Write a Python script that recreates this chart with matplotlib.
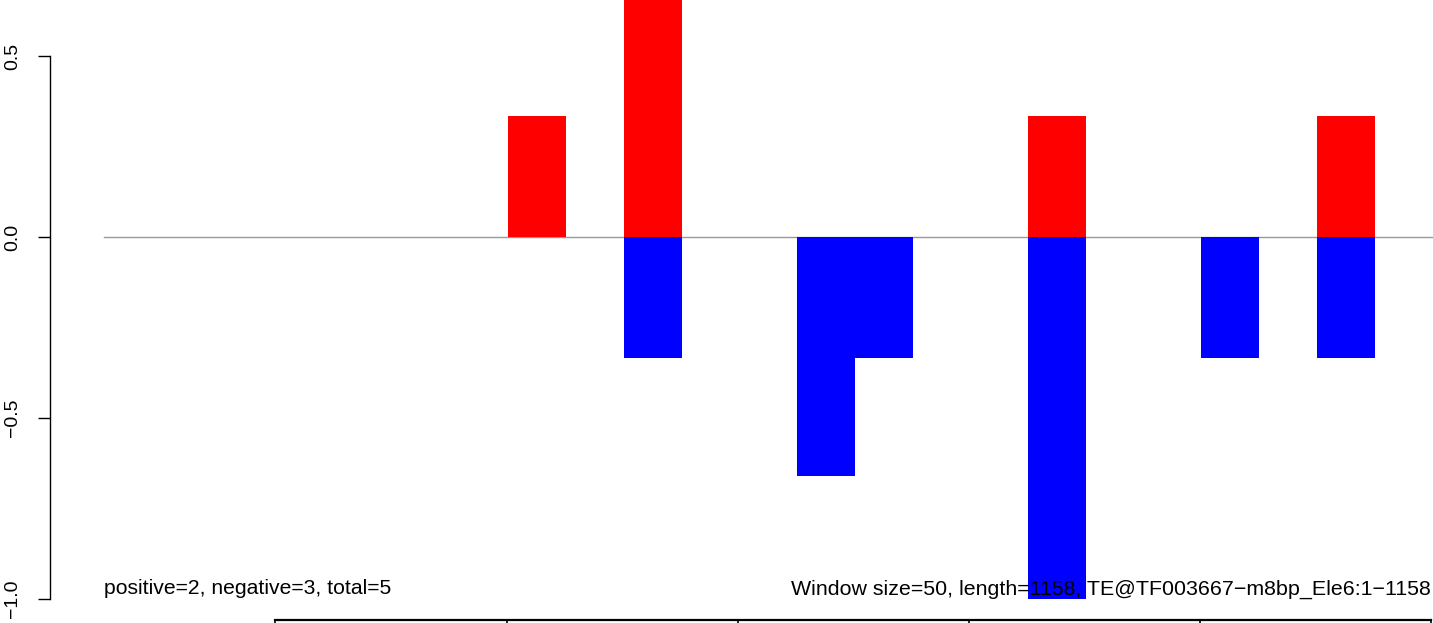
import numpy as np
import matplotlib.pyplot as plt

plt.rcParams['font.family'] = ['Liberation Sans', 'DejaVu Sans']

# window starts (bp), window size 50
window_size = 50
seq_length = 1158
window_starts = [350, 450, 600, 650, 800, 950, 1050]
pos_vals = [0.333, 0.667, 0.0, 0.0, 0.333, 0.0, 0.333]
neg_vals = [0.0, -0.333, -0.66, -0.333, -1.0, -0.333, -0.333]

y_ticks = [-1.0, -0.5, 0.0, 0.5]
y_tick_labels = ['\u22121.0', '\u22120.5', '0.0', '0.5']

# boundaries of the box drawn along the bottom edge
box_bounds = [148, 349, 549, 749, 949, 1149]

left_text = "positive=2, negative=3, total=5"
right_text = "Window size=50, length=1158, TE@TF003667\u2212m8bp_Ele6:1\u22121158"

fig = plt.figure(figsize=(14.33, 6.23), dpi=100)
ax = fig.add_axes([0, 0, 1, 1])
ax.set_xlim(-90.0, 1150.6)
ax.set_ylim(-1.066, 0.6547)

ax.bar(window_starts, pos_vals, width=window_size, align='edge',
       color='#ff0000', linewidth=0, zorder=2)
ax.bar(window_starts, neg_vals, width=window_size, align='edge',
       color='#0000ff', linewidth=0, zorder=2)
ax.plot([0, seq_length], [0, 0], color='#999999', lw=1.0, zorder=1)

ax.text(0, -0.972, left_text, ha='left', va='center', fontsize=15.2, zorder=3)
ax.text(1149, -0.972, right_text, ha='right', va='center', fontsize=15.4, zorder=3)

# box along bottom
ax.plot([box_bounds[0], box_bounds[-1]], [-1.0566, -1.0566], color='black', lw=1.6)
for b in box_bounds:
    ax.plot([b, b], [-1.0566, -1.2], color='black', lw=1.2)

for s in ['top', 'right', 'bottom']:
    ax.spines[s].set_visible(False)
ax.spines['left'].set_position(('data', -46.75))
ax.spines['left'].set_bounds(-1.0, 0.5)
ax.spines['left'].set_linewidth(1.0)
ax.set_xticks([])
ax.set_yticks(y_ticks)
ax.set_yticklabels(y_tick_labels, rotation=90, va='center', fontsize=14)
ax.tick_params(axis='y', direction='out', length=8.6, width=1.0, pad=12)

fig.savefig('out.png', dpi=100)
